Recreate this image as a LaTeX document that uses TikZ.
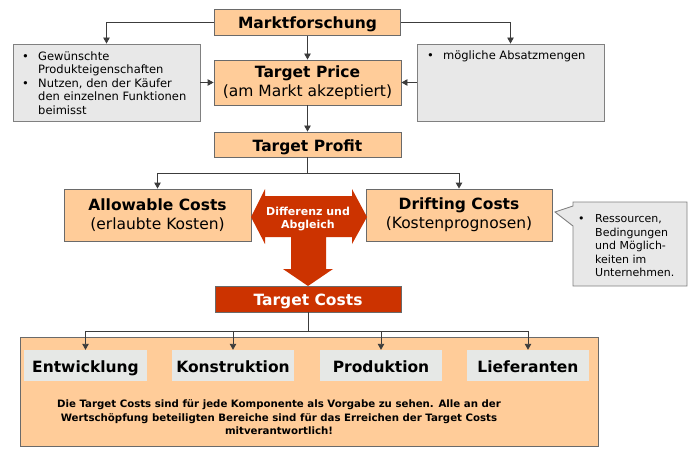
\documentclass[tikz,border=0pt]{standalone}
\usepackage{fontspec}
\setmainfont{DejaVu Sans}
\usetikzlibrary{arrows.meta}
\definecolor{peach}{HTML}{FFCC99}
\definecolor{boxgray}{HTML}{E8E8E8}
\definecolor{tabgray}{HTML}{E6E8E6}
\definecolor{rust}{HTML}{CC3300}
\definecolor{edge}{HTML}{6A6A6A}
\definecolor{lineclr}{HTML}{3C3C3C}
\begin{document}
\begin{tikzpicture}[x=1pt,y=-1pt,
  big/.style={font=\fontsize{15.5}{19}\selectfont},
  oneline/.style={text height=13pt, text depth=0pt},
  pbox/.style={draw=edge, fill=peach, line width=0.9pt, inner sep=0pt, align=center, big},
  gbox/.style={draw=edge!85, fill=boxgray, line width=0.9pt, inner sep=0pt},
  rbox/.style={draw=edge, fill=rust, text=white, line width=0.9pt, inner sep=0pt, big, oneline},
  tabbox/.style={fill=tabgray, inner sep=0pt, big, oneline},
  conn/.style={draw=lineclr, line width=0.9pt},
  arr/.style={conn, -{Triangle[width=6.5pt,length=6pt]}},
  bullettext/.style={anchor=north west, inner sep=0pt, font=\fontsize{11.5}{13.5}\selectfont},
]
\useasboundingbox (0,0) rectangle (700,457);
\fill[white] (0,0) rectangle (700,457);

% main column
\node[pbox, oneline, minimum width=186, minimum height=26] (mf) at (307.5,22.5) {\bfseries Marktforschung};
\node[pbox, minimum width=187, minimum height=45] (tp) at (307.5,82.5) {\textbf{Target Price}\\(am Markt akzeptiert)};
\node[pbox, oneline, minimum width=187, minimum height=25] (tpr) at (307.5,144.5) {\bfseries Target Profit};
\node[pbox, minimum width=187, minimum height=52] (ac) at (157.5,215) {\textbf{Allowable Costs}\\(erlaubte Kosten)};
\node[pbox, minimum width=186, minimum height=52] (dc) at (459,215) {\textbf{Drifting Costs}\\(Kostenprognosen)};
\node[rbox, minimum width=186, minimum height=26] (tc) at (308,299) {\bfseries Target Costs};

% side gray boxes
\node[gbox, minimum width=187, minimum height=77] (lb) at (106.5,82.5) {};
\node[bullettext] (lbt) at (22,50.5) {\begin{tabular}{@{}p{16pt}@{}l@{}}
\textbullet & Gewünschte\\
 & Produkteigenschaften\\
\textbullet & Nutzen, den der Käufer\\
 & den einzelnen Funktionen\\
 & beimisst
\end{tabular}};
\node[gbox, minimum width=187, minimum height=77] (rb) at (510.5,82.5) {};
\node[bullettext] (rbt) at (427,49.5) {\begin{tabular}{@{}p{16pt}@{}l@{}}
\textbullet & mögliche Absatzmengen
\end{tabular}};

% callout
\filldraw[fill=boxgray, draw=edge!85, line width=0.9pt] (573,202) -- (687,202) -- (687,286) -- (573,286) -- (573,226) -- (555,212) -- (573,206) -- cycle;
\node[bullettext, font=\fontsize{11}{13.5}\selectfont] (cot) at (578,213) {\begin{tabular}{@{}p{17pt}@{}l@{}}
\textbullet & Ressourcen,\\
 & Bedingungen\\
 & und Möglich-\\
 & keiten im\\
 & Unternehmen.
\end{tabular}};

% double arrow
\fill[rust] (251,217) -- (265,189) -- (265,196) -- (352,196) -- (352,189) -- (367,217) -- (352,244) -- (352,237) -- (326,237) -- (326,269) -- (333,269) -- (308,286) -- (283,269) -- (291,269) -- (291,237) -- (265,237) -- (265,244) -- cycle;
\node[text=white, align=center, inner sep=0pt, font=\bfseries\fontsize{11}{13}\selectfont] (dif) at (308,219.5) {Differenz und\\Abgleich};

% bottom box
\node[draw=edge, fill=peach, line width=0.9pt, minimum width=578, minimum height=109, inner sep=0pt] (bb) at (309,391.5) {};
\node[tabbox, minimum width=123, minimum height=31] (ent) at (85.5,365.5) {\bfseries Entwicklung};
\node[tabbox, minimum width=122, minimum height=31] (kon) at (233,365.5) {\bfseries Konstruktion};
\node[tabbox, minimum width=122, minimum height=31] (pro) at (381,365.5) {\bfseries Produktion};
\node[tabbox, minimum width=122, minimum height=31] (lie) at (528,365.5) {\bfseries Lieferanten};
\node[align=center, inner sep=0pt, font=\bfseries\fontsize{10.2}{13.5}\selectfont] (note) at (279,417.5) {Die Target Costs sind für jede Komponente als Vorgabe zu sehen. Alle an der\\Wertschöpfung beteiligten Bereiche sind für das Erreichen der Target Costs\\mitverantwortlich!};

% connectors
\draw[arr] (mf.west) -| (lb.north);
\draw[arr] (mf.east) -| (rb.north);
\draw[arr] (mf.south) -- (tp.north);
\draw[arr] (lb.east) -- (tp.west);
\draw[arr] (rb.west) -- (tp.east);
\draw[arr] (tp.south) -- (tpr.north);
\coordinate (pj) at (307.5,173);
\draw[conn] (tpr.south) -- (pj);
\draw[arr] (pj) -| (ac.north);
\draw[arr] (pj) -| (dc.north);
\coordinate (cj) at (308,331);
\draw[conn] (tc.south) -- (cj);
\draw[arr] (cj) -| (ent.north);
\draw[arr] (cj) -| (kon.north);
\draw[arr] (cj) -| (pro.north);
\draw[arr] (cj) -| (lie.north);
\end{tikzpicture}
\end{document}
